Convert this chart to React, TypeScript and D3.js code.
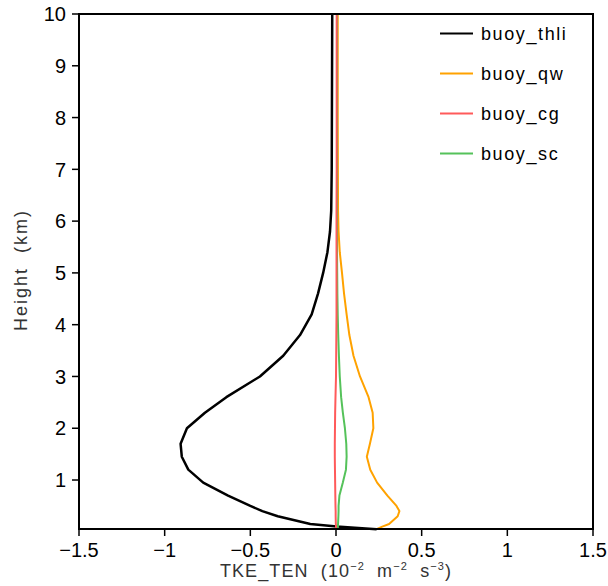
import React from "react";
import * as d3 from "d3";

const heights = [0.05, 0.1, 0.15, 0.3, 0.4, 0.5, 0.7, 0.95, 1.2, 1.45, 1.7, 2.0, 2.3, 2.6, 3.0, 3.4, 3.8, 4.2, 4.6, 5.0, 5.4, 5.8, 6.2, 7, 8, 9, 10];

const buoyThli = [0.237, 0.004, -0.15, -0.34, -0.43, -0.5, -0.63, -0.775, -0.862, -0.9, -0.907, -0.87, -0.765, -0.64, -0.444, -0.308, -0.21, -0.142, -0.105, -0.075, -0.05, -0.035, -0.028, -0.025, -0.024, -0.023, -0.022];
const buoyQw = [0.237, 0.27, 0.31, 0.36, 0.37, 0.353, 0.3, 0.24, 0.2, 0.18, 0.198, 0.218, 0.214, 0.19, 0.14, 0.102, 0.078, 0.062, 0.047, 0.035, 0.022, 0.015, 0.012, 0.011, 0.01, 0.01, 0.01];
const buoyCg = [0.0, 0.0, -0.001, -0.002, -0.002, -0.003, -0.004, -0.005, -0.006, -0.007, -0.007, -0.006, -0.005, -0.003, 0.0, 0.001, 0.002, 0.003, 0.003, 0.003, 0.003, 0.003, 0.003, 0.004, 0.004, 0.004, 0.004];
const buoySc = [0.01, 0.011, 0.012, 0.014, 0.015, 0.015, 0.02, 0.04, 0.058, 0.062, 0.06, 0.052, 0.04, 0.03, 0.022, 0.017, 0.013, 0.01, 0.008, 0.007, 0.006, 0.006, 0.006, 0.006, 0.006, 0.006, 0.006];

const seriesNames = ["buoy_thli", "buoy_qw", "buoy_cg", "buoy_sc"];
const seriesColors = ["#000000", "#ffa200", "#ff5a5a", "#55c25a"];
const seriesWidths = [2.5, 2, 2, 2];
const seriesValues = [buoyThli, buoyQw, buoyCg, buoySc];
const drawOrder = [0, 1, 3, 2];

const xTicks = [-1.5, -1, -0.5, 0, 0.5, 1, 1.5];
const yTicks = [1, 2, 3, 4, 5, 6, 7, 8, 9, 10];

const W = 608;
const H = 586;
const left = 79;
const right = 593;
const top = 14;
const bottom = 529;

const fmt = (v: number) => {
  const s = String(Math.abs(v));
  return v < 0 ? "\u2212" + s : s;
};

export default function App() {
  const x = d3.scaleLinear().domain([-1.5, 1.5]).range([left, right]);
  const y = d3.scaleLinear().domain([0.054, 10]).range([bottom, top]);
  const line = d3
    .line<[number, number]>()
    .x((d) => x(d[0]))
    .y((d) => y(d[1]));

  const font = "'Liberation Sans', Arial, sans-serif";

  return (
    <svg
      width={W}
      height={H}
      style={{ position: "absolute", left: 0, top: 0, background: "#fff" }}
      fontFamily={font}
    >
      <rect x={0} y={0} width={W} height={H} fill="#fff" />
      <g>
        {drawOrder.map((i) => (
          <path
            key={seriesNames[i]}
            d={line(heights.map((h, k) => [seriesValues[i][k], h] as [number, number])) || ""}
            fill="none"
            stroke={seriesColors[i]}
            strokeWidth={seriesWidths[i]}
            strokeLinejoin="round"
          />
        ))}
      </g>
      <rect x={left} y={top} width={right - left} height={bottom - top} fill="none" stroke="#000" strokeWidth={2} />
      {xTicks.map((t) => (
        <g key={"x" + t}>
          <line x1={x(t)} x2={x(t)} y1={bottom} y2={bottom + 7} stroke="#000" strokeWidth={1.5} />
          <text x={x(t)} y={557} textAnchor="middle" fontSize={20} fill="#000">
            {fmt(t)}
          </text>
        </g>
      ))}
      {yTicks.map((t) => (
        <g key={"y" + t}>
          <line x1={left - 7} x2={left} y1={y(t)} y2={y(t)} stroke="#000" strokeWidth={1.5} />
          <text x={66} y={y(t)} dy="0.36em" textAnchor="end" fontSize={20} fill="#000">
            {t}
          </text>
        </g>
      ))}
      <text
        transform={`translate(27, 270) rotate(-90)`}
        textAnchor="middle"
        fontSize={18}
        fill="#333"
        letterSpacing={2}
        style={{ whiteSpace: "pre" }}
      >
        {"Height  (km)"}
      </text>
      <text
        x={(left + right) / 2}
        y={577}
        textAnchor="middle"
        fontSize={18}
        fill="#333"
        letterSpacing={1.1}
        style={{ whiteSpace: "pre" }}
      >
        <tspan>{"TKE_TEN  (10"}</tspan>
        <tspan dy={-7} fontSize={11}>{"\u22122"}</tspan>
        <tspan dy={7}>{"  m"}</tspan>
        <tspan dy={-7} fontSize={11}>{"\u22122"}</tspan>
        <tspan dy={7}>{"  s"}</tspan>
        <tspan dy={-7} fontSize={11}>{"\u22123"}</tspan>
        <tspan dy={7}>{")"}</tspan>
      </text>
      {seriesNames.map((n, i) => (
        <g key={"leg" + n}>
          <line x1={440} x2={473} y1={33.5 + i * 40} y2={33.5 + i * 40} stroke={seriesColors[i]} strokeWidth={2} />
          <text x={481} y={33.5 + i * 40} dy="0.36em" fontSize={18} letterSpacing={1.6} fill="#000">
            {n}
          </text>
        </g>
      ))}
    </svg>
  );
}
